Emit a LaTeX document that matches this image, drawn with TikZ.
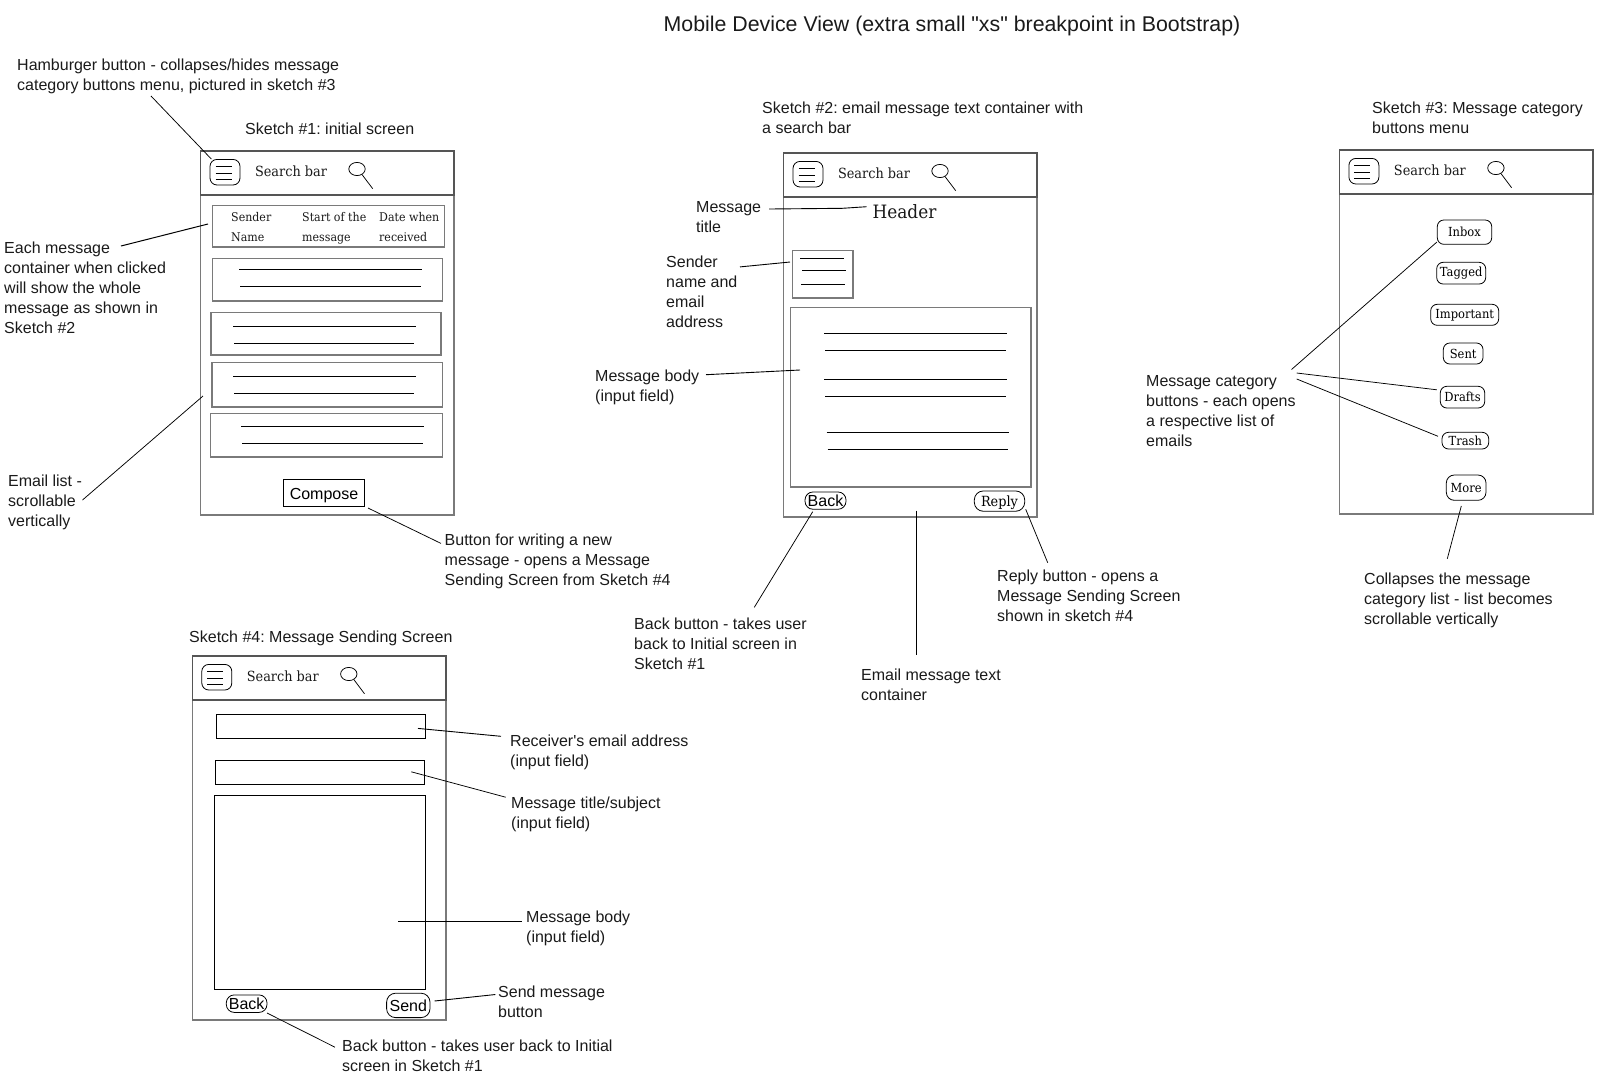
\documentclass[tikz,border=0pt]{standalone}
\usepackage{fontspec}
\setmainfont{Liberation Sans}[Ligatures=TeXOff]
\newfontfamily\sketchserif[FakeStretch=0.92]{DejaVu Serif}
\frenchspacing
\definecolor{framegray}{HTML}{7A7A7A}
\definecolor{headgray}{HTML}{555555}
\definecolor{notetext}{HTML}{1A1A1A}
\tikzset{
  note/.style={anchor=north west,inner sep=0pt,align=left,text=notetext,yshift=-4.5pt,
    font=\fontsize{16}{20}\selectfont},
  smalltext/.style={anchor=north west,inner sep=0pt,align=left,text=notetext,yshift=-5pt,
    font=\fontsize{12}{20}\selectfont\sketchserif},
  frameline/.style={draw=framegray,line width=1.6pt},
  headline/.style={draw=headgray,line width=1.6pt},
  graybox/.style={draw=framegray,line width=1.5pt,inner sep=0pt},
  blackbox/.style={draw=black,line width=.9pt,inner sep=0pt},
  pill/.style={draw=black,line width=.8pt,rounded corners=6.5pt,inner sep=0pt,
    font=\fontsize{12.5}{14}\selectfont\sketchserif},
  leader/.style={draw=black,line width=.75pt},
  textline/.style={draw=black,line width=.9pt}
}
% frame with the search bar on top
\newcommand{\sketchframe}[3]{
  \begin{scope}[shift={(#2,#3)}]
    \draw[frameline] (0,0) rectangle (253.5,364);
    \draw[headline] (0,0) rectangle (253.5,44);
    \node[pill,minimum width=30pt,minimum height=25.6pt,rounded corners=7pt] (#1menu) at (24.5,21.2) {};
    \foreach \liney in {15.7,22,28} {
      \draw[textline] (15,\liney) -- (31,\liney);
    }
    \node[text=notetext,inner sep=0pt,font=\fontsize{14}{16}\selectfont\sketchserif] (#1search) at (90.5,20) {Search bar};
    \draw[textline,line width=.75pt] (156.5,18) ellipse [x radius=8.2,y radius=6.6];
    \draw[textline,line width=.75pt] (161.5,23.5) -- (172.2,37.7);
  \end{scope}
}
% two text lines in a box
\newcommand{\twolines}[6]{
  \draw[textline] (#1,#3) -- (#2,#3);
  \draw[textline] (#4,#6) -- (#5,#6);
}

\begin{document}
\begin{tikzpicture}[x=1pt,y=-1pt]
  \useasboundingbox (0,0) rectangle (1616,1080);

  \node[note,font=\fontsize{21.33}{24}\selectfont,anchor=center] (title) at (952,21.5) {Mobile Device View (extra small "xs" breakpoint in Bootstrap)};

  % sketch 1
  \node[note] (s1title) at (245,117.7) {Sketch \#1: initial screen};
  \sketchframe{s1}{200.5}{151}
  \node[graybox,minimum width=231.9pt,minimum height=41.4pt] (rowbox) at (328.35,226.3) {};
  \node[smalltext] (rowa) at (231,207) {Sender\\Name};
  \node[smalltext] (rowb) at (302,207) {Start of the\\message};
  \node[smalltext] (rowc) at (379,207) {Date when\\received};
  \node[graybox,minimum width=229.9pt,minimum height=42.4pt] (msga) at (327.35,279.8) {};
  \node[graybox,minimum width=230.4pt,minimum height=42.3pt] (msgb) at (326,333.85) {};
  \node[graybox,minimum width=230.4pt,minimum height=44.4pt] (msgc) at (327.1,384.8) {};
  \node[graybox,minimum width=232pt,minimum height=43.4pt] (msgd) at (326.3,435.3) {};
  \twolines{239}{421.6}{269.3}{240}{420.6}{286}
  \twolines{233}{415.5}{326.4}{234}{414.4}{343.3}
  \twolines{233}{415.5}{376.4}{234}{414.4}{393.2}
  \twolines{241.2}{423.7}{426.3}{242.3}{422.7}{443.2}
  \node[blackbox,minimum width=80.9pt,minimum height=26.9pt,text height=13.5pt,text depth=0pt,font=\fontsize{16}{18}\selectfont] (compose) at (324,492.75) {Compose};

  \node[note] (hamnote) at (17,54) {Hamburger button - collapses/hides message\\category buttons menu, pictured in sketch \#3};
  \node[note] (eachnote) at (4,237) {Each message\\container when clicked\\will show the whole\\message as shown in\\Sketch \#2};
  \node[note] (listnote) at (8,470) {Email list -\\scrollable\\vertically};
  \node[note] (composenote) at (444.5,529) {Button for writing a new\\message - opens a Message\\Sending Screen from Sketch \#4};

  \coordinate (hamfrom) at (151,96); \coordinate (hamto) at (211.3,159);
  \coordinate (eachfrom) at (121,246); \coordinate (eachto) at (208,224);
  \coordinate (listfrom) at (82.5,500); \coordinate (listto) at (203,396);
  \coordinate (composefrom) at (368,508); \coordinate (composeto) at (441,543.4);
  \draw[leader] (hamfrom) -- (hamto);
  \draw[leader,line width=1pt] (eachfrom) -- (eachto);
  \draw[leader] (listfrom) -- (listto);
  \draw[leader] (composefrom) -- (composeto);

  % sketch 2
  \node[note] (s2title) at (762,97) {Sketch \#2: email message text container with\\a search bar};
  \sketchframe{s2}{783.5}{153}
  \node[text=notetext,inner sep=0pt,font=\fontsize{18.4}{20}\selectfont\sketchserif] (header) at (904.5,211.5) {Header};
  \node[graybox,minimum width=60.3pt,minimum height=47.3pt] (avatar) at (822.85,274.35) {};
  \draw[textline] (800,258.3) -- (844,258.3);
  \draw[textline] (802,270.3) -- (846,270.3);
  \draw[textline] (801,284.3) -- (845,284.3);
  \node[graybox,minimum width=240.5pt,minimum height=179.7pt] (bodybox) at (910.95,397.15) {};
  \twolines{824}{1007}{333.3}{825}{1006}{350.2}
  \twolines{824}{1007}{379.5}{825}{1006}{396.4}
  \twolines{826.6}{1009}{432.2}{827.6}{1008}{449.4}
  \node[pill,minimum width=41pt,minimum height=17.3pt,rounded corners=8pt,font=\fontsize{16}{18}\selectfont] (s2back) at (825.5,500.6) {Back};
  \node[pill,minimum width=50.4pt,minimum height=20.3pt,rounded corners=9pt,text height=11pt,text depth=0pt,font=\fontsize{14}{16}\selectfont\sketchserif] (s2reply) at (999.5,501.1) {Reply};

  \node[note] (titlenote) at (696,197) {Message\\title};
  \node[note] (sendernote) at (666,251) {Sender\\name and\\email\\address};
  \node[note] (bodynote) at (595,365) {Message body\\(input field)};
  \node[note] (backnote) at (634,613.5) {Back button - takes user\\back to Initial screen in\\Sketch \#1};
  \node[note] (containernote) at (861,664) {Email message text\\container};
  \node[note] (replynote) at (997,565.5) {Reply button - opens a\\Message Sending Screen\\shown in sketch \#4};

  \coordinate (titlefrom) at (769,209); \coordinate (titlemid) at (842.3,208.3); \coordinate (titleto) at (866.7,206.7);
  \coordinate (senderfrom) at (740,266.9); \coordinate (senderto) at (790,262);
  \coordinate (bodyfrom) at (706,374.7); \coordinate (bodyto) at (800,370);
  \coordinate (backfrom) at (812.7,511.7); \coordinate (backto) at (754.3,607.3);
  \coordinate (containerfrom) at (916.3,510.7); \coordinate (containerto) at (916.3,655);
  \coordinate (replyfrom) at (1025.7,509.3); \coordinate (replyto) at (1047.7,562.7);
  \draw[leader,line width=.9pt] (titlefrom) -- (titlemid) -- (titleto);
  \draw[leader,line width=.9pt] (senderfrom) -- (senderto);
  \draw[leader,line width=.9pt] (bodyfrom) -- (bodyto);
  \draw[leader] (backfrom) -- (backto);
  \draw[leader,line width=.9pt] (containerfrom) -- (containerto);
  \draw[leader] (replyfrom) -- (replyto);

  % sketch 3
  \node[note] (s3title) at (1372,97) {Sketch \#3: Message category\\buttons menu};
  \sketchframe{s3}{1339.4}{150}
  \node[pill,minimum width=54.4pt,minimum height=24.3pt] (inbox) at (1464.5,232.15) {Inbox};
  \node[pill,minimum width=49pt,minimum height=21.7pt] (tagged) at (1461.2,273.15) {Tagged};
  \node[pill,minimum width=68pt,minimum height=21pt] (important) at (1464.7,314.8) {Important};
  \node[pill,minimum width=39.7pt,minimum height=21pt] (sent) at (1463.15,353.5) {Sent};
  \node[pill,minimum width=44.4pt,minimum height=21.7pt] (drafts) at (1462.5,397.15) {Drafts};
  \node[pill,minimum width=46.7pt,minimum height=16.7pt] (trash) at (1465.35,440.65) {Trash};
  \node[pill,minimum width=39.7pt,minimum height=25.3pt,rounded corners=8pt] (more) at (1466.15,487.65) {More};

  \node[note] (catnote) at (1146,370.5) {Message category\\buttons - each opens\\a respective list of\\emails};
  \node[note] (collapsenote) at (1364,568.5) {Collapses the message\\category list - list becomes\\scrollable vertically};

  \coordinate (catfrom) at (1291.5,369.5); \coordinate (inboxto) at (1436.9,242);
  \coordinate (draftsfrom) at (1296.7,373); \coordinate (draftsto) at (1436.9,389.8);
  \coordinate (trashfrom) at (1296.7,379); \coordinate (trashto) at (1438,436.3);
  \coordinate (morefrom) at (1461.3,506); \coordinate (moreto) at (1447.3,558.7);
  \draw[leader] (catfrom) -- (inboxto);
  \draw[leader] (draftsfrom) -- (draftsto);
  \draw[leader] (trashfrom) -- (trashto);
  \draw[leader] (morefrom) -- (moreto);

  % sketch 4
  \node[note] (s4title) at (189,626) {Sketch \#4: Message Sending Screen};
  \sketchframe{s4}{192.3}{656}
  \node[blackbox,minimum width=209.3pt,minimum height=24.1pt] (recvbox) at (321.15,726.25) {};
  \node[blackbox,minimum width=209.2pt,minimum height=24.1pt] (subjbox) at (320.1,772.45) {};
  \node[blackbox,minimum width=211.4pt,minimum height=194.2pt] (textbox) at (320.1,892.3) {};
  \node[pill,minimum width=40.7pt,minimum height=17.5pt,rounded corners=8pt,font=\fontsize{16}{18}\selectfont] (s4back) at (246.65,1003.65) {Back};
  \node[pill,minimum width=43.4pt,minimum height=24.4pt,rounded corners=9pt,font=\fontsize{16}{18}\selectfont] (s4send) at (408.3,1005.4) {Send};

  \node[note] (recvnote) at (510,730) {Receiver's email address\\(input field)};
  \node[note] (subjnote) at (511,792) {Message title/subject\\(input field)};
  \node[note] (textnote) at (526,906) {Message body\\(input field)};
  \node[note] (sendnote) at (498,981) {Send message\\button};
  \node[note] (s4backnote) at (342,1035.5) {Back button - takes user back to Initial\\screen in Sketch \#1};

  \coordinate (recvfrom) at (418,728.4); \coordinate (recvto) at (501,736.3);
  \coordinate (subjfrom) at (411.3,771.8); \coordinate (subjto) at (505.7,797.2);
  \coordinate (textfrom) at (398,921.2); \coordinate (textto) at (522,921.2);
  \coordinate (sendfrom) at (434.5,1001); \coordinate (sendto) at (495.4,994.5);
  \coordinate (s4backfrom) at (267,1013); \coordinate (s4backto) at (335,1047.2);
  \draw[leader,line width=.9pt] (recvfrom) -- (recvto);
  \draw[leader] (subjfrom) -- (subjto);
  \draw[leader,line width=.9pt] (textfrom) -- (textto);
  \draw[leader,line width=.9pt] (sendfrom) -- (sendto);
  \draw[leader] (s4backfrom) -- (s4backto);
\end{tikzpicture}
\end{document}
